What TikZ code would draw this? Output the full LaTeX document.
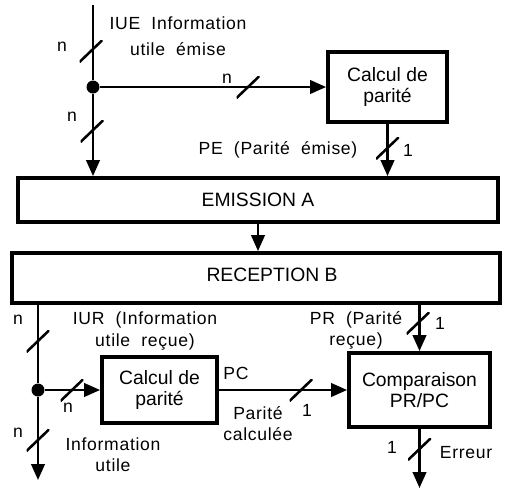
\documentclass[tikz,border=0pt]{standalone}
\usepackage{fontspec}
\setmainfont{Liberation Sans}
\newfontfamily\legende[LetterSpace=4, WordSpace=2]{Liberation Sans}
\usetikzlibrary{arrows.meta, positioning, calc}
\tikzset{
    bloc/.style={draw, line width=2.2pt, align=center, inner sep=0pt},
    fil/.style={line width=1.45pt},
    fleche/.style={fil, -{Triangle[length=0.32cm, width=0.27cm]}},
    lbl/.style={align=center, inner sep=1pt, font=\legende},
    noeud/.style={circle, fill, minimum size=0.26cm, inner sep=0pt},
    bus/.style={minimum width=0.46cm, minimum height=0.44cm, inner sep=0pt,
        path picture={\draw[fil] (path picture bounding box.south west)
            -- (path picture bounding box.north east);}},
}

\begin{document}
\begin{tikzpicture}[x=0.02cm, y=-0.02cm, font=\fontsize{11}{12.2}\selectfont]
    \useasboundingbox (0,0) rectangle (506,491);

    % Blocs
    \node[bloc, minimum width=2.38cm, minimum height=1.4cm] (calcE) at (387.5,87) {Calcul de\\parité};
    \node[bloc, minimum width=9.6cm, minimum height=0.88cm] (emis) at (258,200) {EMISSION A};
    \node[bloc, minimum width=9.76cm, minimum height=1cm] (recep) at (256,278) {};
    \node (recepT) at (272,275) {RECEPTION B};
    \node[bloc, minimum width=2.3cm, minimum height=1.32cm] (calcR) at (159.5,390) {Calcul de\\parité};
    \node[bloc, minimum width=2.82cm, minimum height=1.48cm] (comp) at (419.5,390) {Comparaison\\PR/PC};

    % Branchements et extrémités
    \coordinate (iue) at (93,5);
    \node[noeud] (d1) at (93,87) {};
    \node[noeud] (d2) at (38,390) {};
    \coordinate (iu) at (38,480);
    \coordinate (err) at (419.5,488);

    % Liaisons
    \draw[fil] (iue) -- (d1);
    \draw[fleche] (d1) -- (d1 |- emis.north);
    \draw[fleche] (d1) -- (calcE);
    \draw[fleche] (calcE) -- (calcE |- emis.north);
    \draw[fleche] (emis.south) -- (emis.south |- recep.north);
    \draw[fil] (d2 |- recep.south) -- (d2);
    \draw[fleche] (d2) -- (calcR);
    \draw[fleche] (d2) -- (iu);
    \draw[fleche] (calcR) -- (comp);
    \draw[fleche] (comp.north |- recep.south) -- (comp);
    \draw[fleche] (comp) -- (err);

    % Barres de bus
    \node[bus] (b1) at (91,51) {};
    \node[bus] (b2) at (92,131) {};
    \node[bus] (b3) at (248,87) {};
    \node[bus] (b4) at (387.5,148) {};
    \node[bus] (b5) at (38,341) {};
    \node[bus] (b6) at (72,390) {};
    \node[bus] (b7) at (38,440) {};
    \node[bus] (b8) at (301,390) {};
    \node[bus] (b9) at (418,323) {};
    \node[bus] (b10) at (419.5,449) {};

    \node[lbl] (n1) at (62,47) {n};
    \node[lbl] (n2) at (72,117) {n};
    \node[lbl] (n3) at (227,79) {n};
    \node[lbl] (u4) at (408,150) {1};
    \node[lbl] (n5) at (18,320) {n};
    \node[lbl] (n6) at (68,408) {n};
    \node[lbl] (n7) at (18,433) {n};
    \node[lbl] (u8) at (307,410) {1};
    \node[lbl] (u9) at (440,323) {1};
    \node[lbl] (u10) at (392,447) {1};

    % Légendes
    \node[lbl] (tIUE) at (178,36) {IUE Information\\[3pt]utile émise};
    \node[lbl] (tPE) at (278,150) {PE (Parité émise)};
    \node[lbl] (tIUR) at (145,331) {IUR (Information\\utile reçue)};
    \node[lbl] (tPC) at (236,373) {PC};
    \node[lbl] (tPCc) at (258,424) {Parité\\calculée};
    \node[lbl] (tPR) at (356,330) {PR (Parité\\reçue)};
    \node[lbl] (tErr) at (466,453) {Erreur};
    \node[lbl] (tIU) at (113,455) {Information\\utile};
\end{tikzpicture}
\end{document}
